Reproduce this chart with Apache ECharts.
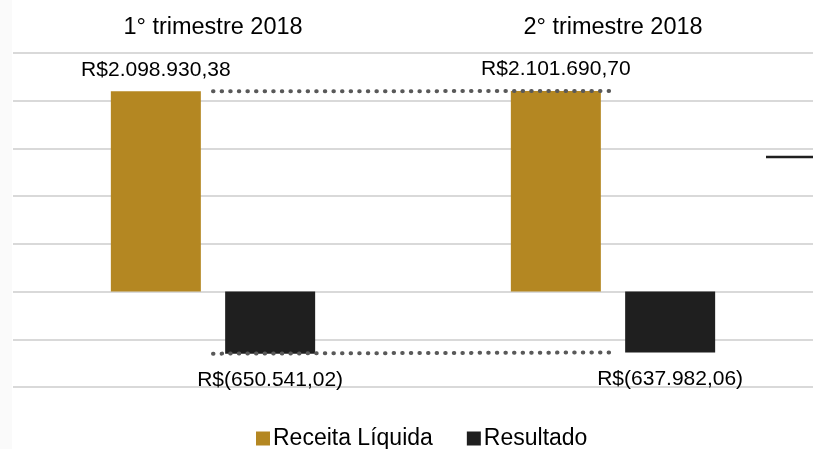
<!DOCTYPE html>
<html>
<head>
<meta charset="utf-8">
<script src="https://cdn.jsdelivr.net/npm/echarts@6/dist/echarts.min.js"></script>
<style>
  html, body { margin: 0; padding: 0; background: #fff; }
  #chart { width: 813px; height: 449px; }
</style>
</head>
<body>
<div id="chart"></div>
<script>
var categories = ['1° trimestre 2018', '2° trimestre 2018'];
var receita = [2098930.38, 2101690.70];
var resultado = [-650541.02, -637982.06];
var seriesNames = ['Receita Líquida', 'Resultado'];

function brl(v) {
  var neg = v < 0;
  var parts = Math.abs(v).toFixed(2).split('.');
  var int = parts[0].replace(/\B(?=(\d{3})+(?!\d))/g, '.');
  var s = int + ',' + parts[1];
  return neg ? 'R$(' + s + ')' : 'R$' + s;
}

var chart = echarts.init(document.getElementById('chart'));
var font = '"Liberation Sans", Arial, sans-serif';

var option = {
  animation: false,
  textStyle: { fontFamily: font },
  graphic: [
    { type: 'rect', shape: { x: 0, y: 0, width: 12, height: 449 }, style: { fill: '#fafafa' }, z: -1 },
    { type: 'line', shape: { x1: 766, y1: 157, x2: 813, y2: 157 }, style: { stroke: '#1f1f1f', lineWidth: 2.5 } }
  ],
  legend: {
    data: seriesNames,
    left: 251,
    top: 422,
    itemWidth: 14,
    itemHeight: 14,
    itemGap: 34,
    icon: 'rect',
    textStyle: { fontSize: 23, color: '#000', fontFamily: font, padding: [0, 0, 0, -2] }
  },
  grid: { left: 13, top: 53, width: 806, height: 334 },
  xAxis: {
    type: 'category',
    position: 'top',
    data: categories,
    axisLine: { show: false },
    axisTick: { show: false },
    axisLabel: { fontSize: 23.5, color: '#000', margin: 13, fontFamily: font }
  },
  yAxis: {
    type: 'value',
    min: -1000000,
    max: 2500000,
    interval: 500000,
    axisLabel: { show: false },
    axisLine: { show: false },
    axisTick: { show: false },
    splitLine: { lineStyle: { color: '#d9d9d9', width: 2 } }
  },
  series: [
    {
      name: seriesNames[0],
      type: 'bar',
      data: receita,
      barWidth: 90,
      barGap: '27%',
      itemStyle: { color: '#b48722' },
      label: {
        show: true,
        position: 'top',
        distance: 11,
        fontSize: 21,
        color: '#000',
        fontFamily: font,
        formatter: function (p) { return brl(p.value); }
      }
    },
    {
      name: seriesNames[1],
      type: 'bar',
      data: resultado,
      barWidth: 90,
      itemStyle: { color: '#1f1f1f' },
      label: {
        show: true,
        position: 'bottom',
        distance: 16,
        fontSize: 21,
        color: '#000',
        fontFamily: font,
        formatter: function (p) { return brl(p.value); }
      }
    },
    {
      type: 'line',
      data: receita,
      symbol: 'none',
      silent: true,
      lineStyle: { color: '#595959', width: 4, type: [0.5, 8.1], cap: 'round' }
    },
    {
      type: 'line',
      data: resultado,
      symbol: 'none',
      silent: true,
      lineStyle: { color: '#595959', width: 4, type: [0.5, 8.1], cap: 'round' }
    }
  ]
};

chart.setOption(option);
</script>
</body>
</html>
